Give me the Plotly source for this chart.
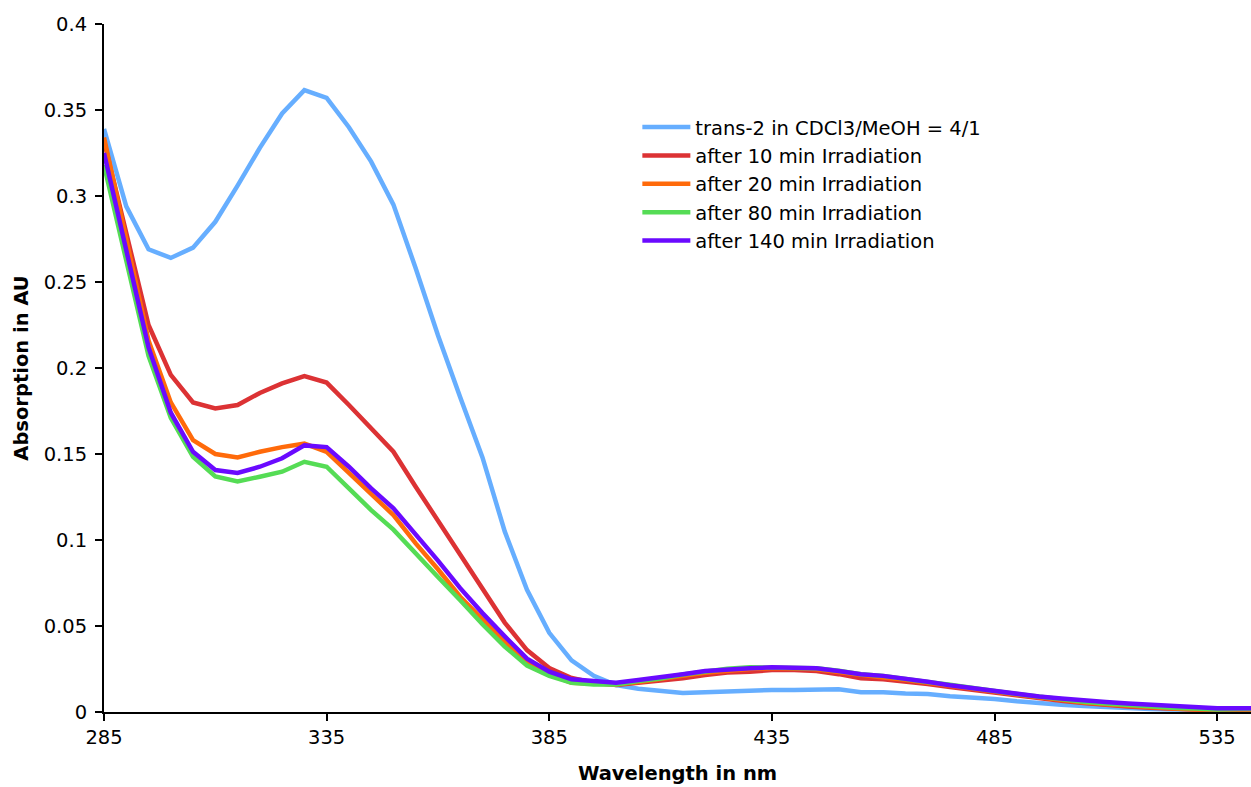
import plotly.graph_objects as go

wavelength = list(range(285, 550, 5))

trans2 = [0.339, 0.294, 0.269, 0.264, 0.270, 0.285, 0.306, 0.328, 0.348, 0.3615,
          0.357, 0.340, 0.320, 0.295, 0.258, 0.219, 0.183, 0.148, 0.105, 0.071,
          0.046, 0.030, 0.021, 0.0157, 0.0135, 0.012, 0.011, 0.0115, 0.012, 0.0128,
          0.0128, 0.0128, 0.0132, 0.0132, 0.0115, 0.0115, 0.0108, 0.0105, 0.0092, 0.0085,
          0.0075, 0.0062, 0.005, 0.0042, 0.0035, 0.0028, 0.0022, 0.0018, 0.0015, 0.0013,
          0.0012, 0.0012, 0.0012]

after10 = [0.332, 0.278, 0.225, 0.196, 0.180, 0.1765, 0.1785, 0.1855, 0.191, 0.1953,
           0.1915, 0.1785, 0.165, 0.1513, 0.131, 0.111, 0.091, 0.072, 0.052, 0.036,
           0.0256, 0.0198, 0.017, 0.0157, 0.017, 0.018, 0.0196, 0.0215, 0.023, 0.0234,
           0.0244, 0.0244, 0.0238, 0.022, 0.0196, 0.019, 0.0178, 0.0163, 0.0145, 0.0128,
           0.0115, 0.0098, 0.0082, 0.0065, 0.0052, 0.004, 0.0032, 0.0025, 0.0018, 0.0014,
           0.0012, 0.0012, 0.0012]

after20 = [0.334, 0.276, 0.216, 0.180, 0.158, 0.150, 0.148, 0.1513, 0.154, 0.156,
           0.1513, 0.139, 0.127, 0.1145, 0.098, 0.083, 0.067, 0.054, 0.041, 0.029,
           0.022, 0.017, 0.0162, 0.016, 0.0175, 0.019, 0.021, 0.0228, 0.0242, 0.025,
           0.0255, 0.0255, 0.0248, 0.0232, 0.021, 0.020, 0.0188, 0.017, 0.0152, 0.0132,
           0.012, 0.0102, 0.0085, 0.0068, 0.0055, 0.0045, 0.0035, 0.0028, 0.002, 0.0015,
           0.0013, 0.0015, 0.0015]

after80 = [0.318, 0.262, 0.207, 0.171, 0.1484, 0.137, 0.134, 0.1368, 0.1397, 0.1455,
           0.1426, 0.130, 0.1174, 0.106, 0.092, 0.0785, 0.065, 0.051, 0.038, 0.027,
           0.021, 0.017, 0.016, 0.016, 0.018, 0.0195, 0.0218, 0.0238, 0.0252, 0.026,
           0.026, 0.026, 0.0255, 0.024, 0.022, 0.021, 0.0195, 0.0175, 0.0158, 0.0138,
           0.0122, 0.0105, 0.0088, 0.0072, 0.006, 0.005, 0.004, 0.0032, 0.0025, 0.002,
           0.0015, 0.0018, 0.0018]

after140 = [0.325, 0.268, 0.212, 0.174, 0.1513, 0.1407, 0.139, 0.1426, 0.1475, 0.155,
            0.154, 0.1426, 0.130, 0.1184, 0.1035, 0.088, 0.072, 0.0575, 0.044, 0.031,
            0.0234, 0.019, 0.018, 0.017, 0.0186, 0.020, 0.022, 0.0238, 0.0248, 0.0254,
            0.026, 0.026, 0.0254, 0.0238, 0.0219, 0.021, 0.0195, 0.0176, 0.0155, 0.0138,
            0.0125, 0.0105, 0.009, 0.0078, 0.0065, 0.0058, 0.005, 0.0042, 0.004, 0.0032,
            0.0022, 0.0022, 0.0022]

series_names = ["trans-2 in CDCl3/MeOH = 4/1", "after 10 min Irradiation",
                "after 20 min Irradiation", "after 80 min Irradiation",
                "after 140 min Irradiation"]
series_values = [trans2, after10, after20, after80, after140]
series_colors = ["#66AEFF", "#DC3234", "#FF6A0A", "#55DC55", "#6A0AFF"]

x_ticks = [285, 335, 385, 435, 485, 535]
y_ticks = [0, 0.05, 0.1, 0.15, 0.2, 0.25, 0.3, 0.35, 0.4]
y_ticklabels = ["0", "0.05", "0.1", "0.15", "0.2", "0.25", "0.3", "0.35", "0.4"]

FONT = "Verdana, DejaVu Sans, sans-serif"
FS = 19.5

fig = go.Figure()
for name, vals, col in zip(series_names, series_values, series_colors):
    fig.add_trace(go.Scatter(x=wavelength, y=vals, mode="lines", name=name,
                             line=dict(color=col, width=4.5)))

fig.update_layout(
    width=1251, height=787,
    margin=dict(l=104, r=0, t=24, b=75),
    paper_bgcolor="white", plot_bgcolor="white",
    font=dict(family=FONT, size=FS, color="black"),
    showlegend=True,
    legend=dict(x=0.465, y=0.878, xanchor="left", yanchor="top",
                bgcolor="rgba(0,0,0,0)", font=dict(size=FS, family=FONT),
                tracegroupgap=0, itemwidth=48),
    xaxis=dict(range=[285, 542.6], tickvals=x_ticks, ticks="outside", ticklen=7,
               tickwidth=2, tickcolor="black", showline=True, linecolor="black",
               linewidth=2, showgrid=False, zeroline=False, automargin=False,
               tickfont=dict(size=FS, family=FONT),
               title=dict(text="<b>Wavelength in nm</b>", standoff=18,
                          font=dict(size=FS, family=FONT))),
    yaxis=dict(range=[0, 0.4], tickvals=y_ticks, ticktext=y_ticklabels,
               ticks="outside", ticklen=7, tickwidth=2, tickcolor="black",
               showline=True, linecolor="black", linewidth=2, showgrid=False,
               zeroline=False, automargin=False, ticklabelstandoff=4,
               tickfont=dict(size=FS, family=FONT),
               title=dict(text="<b>Absorption in AU</b>", standoff=10,
                          font=dict(size=FS, family=FONT))),
)

fig.write_html("out.html", config={"displayModeBar": False},
               post_script="document.body.style.margin='0';document.body.style.overflow='hidden';")
